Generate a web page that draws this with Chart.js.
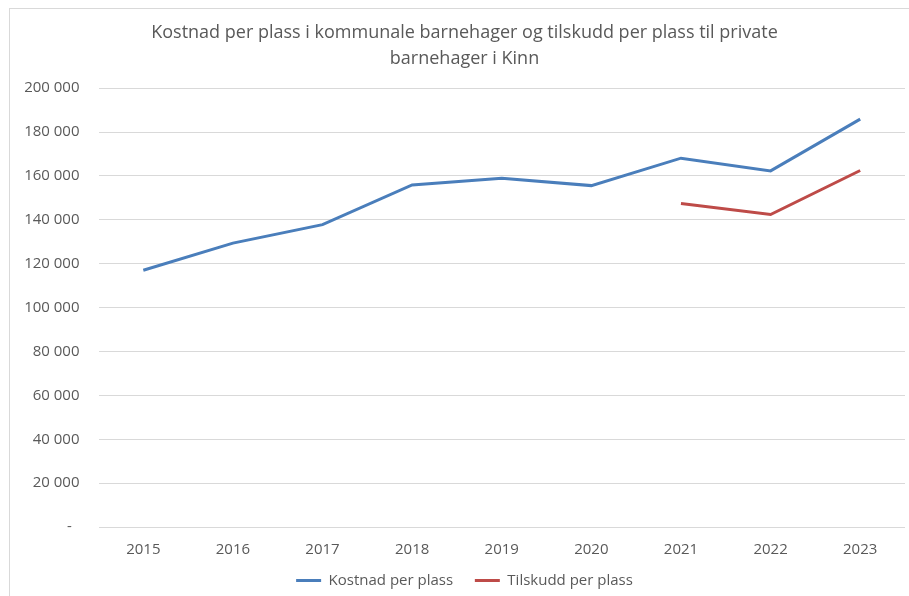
<!DOCTYPE html>
<html>
<head>
<meta charset="utf-8">
<script src="https://cdn.jsdelivr.net/npm/chart.js@4/dist/chart.umd.min.js"></script>
<style>
  html, body { margin: 0; padding: 0; background: #fff; overflow: hidden; width: 909px; height: 596px; }
  #frame { position: absolute; left: 9px; top: 8px; width: 909px; height: 600px; border: 1px solid #d9d9d9; }
  #wrap { position: absolute; left: 0; top: 0; width: 909px; height: 589px; }
</style>
</head>
<body>
<div id="frame"><div id="wrap"><canvas id="c"></canvas></div></div>
<script>
const titleLines = ['Kostnad per plass i kommunale barnehager og tilskudd per plass til private', 'barnehager i Kinn'];
const years = ['2015', '2016', '2017', '2018', '2019', '2020', '2021', '2022', '2023'];
const kostnad = [117000, 129400, 137800, 155900, 158900, 155600, 168100, 162300, 185900];
const tilskudd = [null, null, null, null, null, null, 147400, 142400, 162500];
const seriesNames = ['Kostnad per plass', 'Tilskudd per plass'];
const yMin = 0, yMax = 200000, yStep = 20000;

const txt = '#595959';
const font = { family: '"Open Sans", sans-serif', size: 15 };

new Chart(document.getElementById('c'), {
  type: 'line',
  data: {
    labels: years,
    datasets: [
      { label: seriesNames[0], data: kostnad, borderColor: '#4a7ebb', backgroundColor: '#4a7ebb', borderWidth: 3, pointRadius: 0, pointHoverRadius: 0, tension: 0, fill: false },
      { label: seriesNames[1], data: tilskudd, borderColor: '#be4b48', backgroundColor: '#be4b48', borderWidth: 3, pointRadius: 0, pointHoverRadius: 0, tension: 0, fill: false, spanGaps: false }
    ]
  },
  options: {
    responsive: true,
    maintainAspectRatio: false,
    animation: false,
    layout: { padding: { left: 14, right: 14, top: 0, bottom: 0 } },
    plugins: {
      title: {
        display: true,
        text: titleLines,
        color: txt,
        font: { family: '"Open Sans", sans-serif', size: 18, weight: 'normal', lineHeight: 1.45 },
        padding: { top: 11, bottom: 16 }
      },
      legend: {
        position: 'bottom',
        labels: {
          color: txt,
          font: font,
          usePointStyle: true,
          pointStyle: 'line',
          pointStyleWidth: 25,
          padding: 10,
          generateLabels: (chart) => {
            const items = Chart.defaults.plugins.legend.labels.generateLabels(chart);
            items.forEach((it, i) => { if (i < items.length - 1) it.text = it.text + '\u00a0\u00a0\u00a0'; });
            return items;
          }
        }
      },
      tooltip: { enabled: false }
    },
    scales: {
      x: {
        offset: true,
        grid: { display: false, drawTicks: false, tickLength: 0 },
        border: { display: false },
        ticks: { color: txt, font: font, padding: 13.5, maxRotation: 0 },
        afterFit: (s) => { s.height = 36; }
      },
      y: {
        min: yMin,
        max: yMax,
        grid: { color: '#d9d9d9', lineWidth: 1, drawTicks: false },
        border: { display: false },
        ticks: {
          stepSize: yStep,
          color: txt,
          font: font,
          padding: 19,
          callback: (v) => v === 0 ? '-\u00a0\u00a0' : String(v).replace(/\B(?=(\d{3})+(?!\d))/g, ' ')
        },
        afterFit: (s) => { s.width = 74.5; }
      }
    }
  }
});
</script>
</body>
</html>
